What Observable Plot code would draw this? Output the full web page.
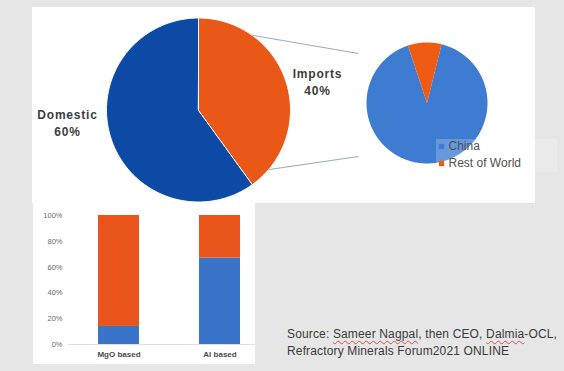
<!DOCTYPE html>
<html>
<head>
<meta charset="utf-8">
<script src="https://cdn.jsdelivr.net/npm/d3@7"></script>
<script src="https://cdn.jsdelivr.net/npm/@observablehq/plot@0.6"></script>
<style>
  html, body { margin: 0; padding: 0; background: #e6e6e6; }
  #wrap { position: relative; width: 564px; height: 371px; overflow: hidden; background: #e6e6e6; font-family: "Liberation Sans", Arial, sans-serif; }
  .panel { position: absolute; background: #ffffff; }
  #top { left: 32px; top: 7px; width: 503px; height: 196px; }
  #bottom { left: 33px; top: 202px; width: 222px; height: 162px; }
  #topPlot { position: absolute; left: 32px; top: 7px; }
  #barPlot { position: absolute; left: 33px; top: 202px; }
  #source { position: absolute; left: 287px; top: 326px; font-size: 12px; line-height: 17px; color: #3a3a3a; white-space: nowrap; letter-spacing: 0.15px; }
  .sq { text-decoration: underline wavy #d9534f; text-decoration-thickness: 1px; text-underline-offset: 2px; }
</style>
</head>
<body>
<div id="wrap">
  <div class="panel" id="top"></div>
  <div class="panel" id="bottom"></div>
  <div id="topPlot"></div>
  <div id="barPlot"></div>
  <div id="source">Source: <span class="sq">Sameer Nagpal</span>, then CEO, <span class="sq">Dalmia</span>-OCL,<br>Refractory Minerals Forum2021 ONLINE</div>
</div>
<script>
// ---- data ----
const mainLabels = ["Domestic", "Imports"];
const mainShares = [60, 40];
const importLabels = ["China", "Rest of World"];
const importShares = [91, 9];
const barCategories = ["MgO based", "Al based"];
const barSeries = ["China", "Rest of World"];
const barChina = [14, 67];
const barRest = [86, 33];
const yTicks = [0, 20, 40, 60, 80, 100];

// ---- layout ----
const TW = 503, TH = 200;
const big = {cx: 166, cy: 102.5, r: 92, start: 144 * Math.PI / 180};
const small = {cx: 394.5, cy: 95.5, r: 60.5, start: 14 * Math.PI / 180};
const colors = {
  "Domestic": "#0c4aa6",
  "Imports": "#ea5818",
  "China": "#3e7cd2",
  "Rest of World": "#f05b14"
};
const barColors = ["#3a74c9", "#e8541b"];
const font = "Liberation Sans, Arial, sans-serif";

function slicePoints(labels, values, p) {
  const arcs = d3.pie().sort(null).startAngle(p.start).endAngle(p.start + 2 * Math.PI)(values);
  return arcs.flatMap((a, i) => {
    const pts = [{key: labels[i], x: p.cx, y: p.cy}];
    const n = Math.max(2, Math.ceil((a.endAngle - a.startAngle) / (Math.PI / 180)));
    for (let k = 0; k <= n; k++) {
      const ang = a.startAngle + (a.endAngle - a.startAngle) * k / n;
      pts.push({key: labels[i], x: p.cx + p.r * Math.sin(ang), y: p.cy - p.r * Math.cos(ang)});
    }
    return pts;
  });
}

const bigPts = slicePoints(mainLabels, mainShares, big);
const smallPts = slicePoints(importLabels, importShares, small);

// connector lines from the imports slice to the breakdown pie
const connAngles = [35.7, 130.4].map(d => d * Math.PI / 180);
const connEndDy = [-49.5, 53.5];
const connectors = connAngles.map((a, i) => ({
  x1: big.cx + big.r * Math.sin(a), y1: big.cy - big.r * Math.cos(a),
  x2: small.cx - small.r - 8, y2: small.cy + connEndDy[i]
}));

// slice labels
const labelPos = [{x: 35, y: 115}, {x: 285, y: 73.5}];
const sliceLabels = mainLabels.map((l, i) => ({text: `${l}\n${mainShares[i]}%`, ...labelPos[i]}));

// legend
const legend = {x: 409, y: 139, dy: 17};

const topPlot = Plot.plot({
  width: TW, height: TH,
  marginTop: 0, marginRight: 0, marginBottom: 0, marginLeft: 0,
  x: {domain: [0, TW], range: [0, TW], axis: null},
  y: {domain: [0, TH], range: [0, TH], axis: null},
  color: {domain: Object.keys(colors), range: Object.values(colors)},
  style: {background: "transparent", overflow: "visible", fontFamily: font},
  marks: [
    Plot.link(connectors, {x1: "x1", y1: "y1", x2: "x2", y2: "y2", stroke: "#98aab8", strokeWidth: 1}),
    Plot.line(bigPts, {x: "x", y: "y", z: "key", fill: "key", stroke: "white", strokeWidth: 1, curve: "linear-closed"}),
    Plot.line(smallPts, {x: "x", y: "y", z: "key", fill: "key", stroke: "none", curve: "linear-closed"}),
    Plot.rect([0], {x1: legend.x - 5, x2: legend.x + 116, y1: legend.y - 7, y2: legend.y + legend.dy + 9, fill: "white", fillOpacity: 0.22}),
    Plot.text(sliceLabels, {x: "x", y: "y", text: "text", fontSize: 12, fontWeight: "bold", fill: "#3d3d3d", lineHeight: 1.4}),
    Plot.dot(importLabels, {x: legend.x, y: (d, i) => legend.y + i * legend.dy, fill: d => d, symbol: "square", r: 3}),
    Plot.text(importLabels, {x: legend.x + 7, y: (d, i) => legend.y + i * legend.dy, text: d => d, textAnchor: "start", fontSize: 12, fill: "#505050"})
  ]
});
topPlot.querySelectorAll("text").forEach(t => { if (/Domestic|Imports/.test(t.textContent)) t.setAttribute("letter-spacing", "0.8"); });
document.getElementById("topPlot").append(topPlot);

// ---- bar chart ----
const barRows = barCategories.flatMap((c, i) => [
  {category: c, series: barSeries[0], value: barChina[i]},
  {category: c, series: barSeries[1], value: barRest[i]}
]);

const barPlot = Plot.plot({
  width: 222, height: 162,
  marginTop: 13, marginBottom: 20, marginLeft: 35, marginRight: 0,
  style: {background: "transparent", fontFamily: font},
  x: {domain: barCategories, range: [45, 227], paddingInner: 0.596, paddingOuter: 0.195, label: null, tickSize: 0, tickPadding: 7},
  y: {domain: [0, 100], ticks: yTicks, tickFormat: d => d + "%", label: null, tickSize: 0, tickPadding: 6},
  color: {domain: barSeries, range: barColors},
  marks: [
    Plot.ruleY([0], {stroke: "#e6dede", strokeWidth: 1}),
    Plot.barY(barRows, {x: "category", y: "value", fill: "series"}),
    Plot.axisY({ticks: yTicks, tickFormat: d => d + "%", tickSize: 0, tickPadding: 6, fontSize: 7.5, fill: "#6a6a6a", label: null}),
    Plot.axisX({tickSize: 0, tickPadding: 7, fontSize: 8, fill: "#4a4a4a", fontWeight: "bold", label: null})
  ]
});
document.getElementById("barPlot").append(barPlot);
</script>
</body>
</html>
